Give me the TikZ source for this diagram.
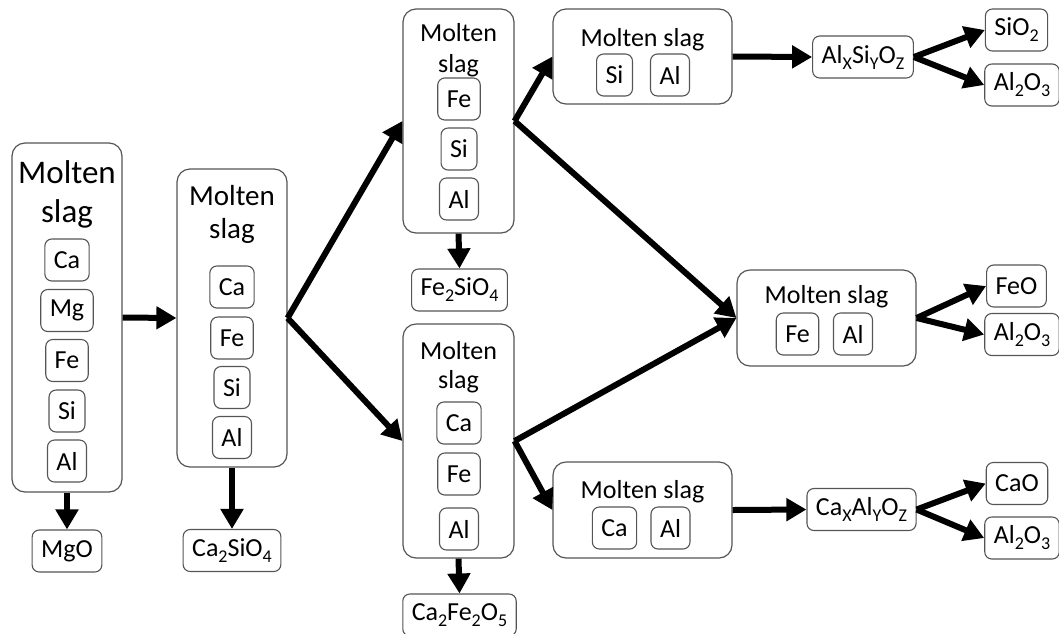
\documentclass[tikz,border=0pt]{standalone}
\usepackage{fontspec}
\setmainfont{Carlito}
\usepackage{tikz}
\usetikzlibrary{arrows.meta}
\definecolor{boxgray}{RGB}{85,85,85}
\newcommand{\lsub}[1]{\raisebox{-6pt}{\fontsize{18}{18}\selectfont#1}}

\tikzset{
  slag/.style={draw=boxgray, line width=1.2pt, rounded corners=13pt, inner sep=0pt},
  elem/.style={draw=boxgray, line width=1.1pt, rounded corners=7pt, inner xsep=9pt, inner ysep=0pt,
    minimum height=42pt, font=\fontsize{26}{30}\selectfont},
  title/.style={anchor=base, inner sep=0pt, font=\fontsize{26}{30}\selectfont},
  flow/.style={line width=6pt, -{Triangle[length=20pt,width=22pt]}}
}

\begin{document}
\begin{tikzpicture}[x=1pt,y=-1pt]
\useasboundingbox (0,0) rectangle (1059,633);

% slag boxes
\node[slag, minimum width=110pt, minimum height=349pt] (s1) at (67,317.5) {};
\node[slag, minimum width=110pt, minimum height=298pt] (s2) at (232,318) {};
\node[slag, minimum width=111pt, minimum height=224pt] (s3) at (458.5,121) {};
\node[slag, minimum width=111pt, minimum height=234pt] (s5) at (458.5,441) {};
\node[slag, minimum width=179pt, minimum height=95pt] (s4) at (642.5,56.5) {};
\node[slag, minimum width=179pt, minimum height=96pt] (s6) at (642.5,510) {};
\node[slag, minimum width=179pt, minimum height=96pt] (s7) at (826.5,318) {};

% titles
\node[title, font=\fontsize{33}{38}\selectfont] (t1a) at (67,183) {Molten};
\node[title, font=\fontsize{33}{38}\selectfont] (t1b) at (67,222) {slag};
\node[title, font=\fontsize{29}{34}\selectfont] (t2a) at (232,205) {Molten};
\node[title, font=\fontsize{29}{34}\selectfont] (t2b) at (232,238) {slag};
\node[title] (t3a) at (458.5,41) {Molten};
\node[title] (t3b) at (458.5,72) {slag};
\node[title] (t5a) at (458.5,359) {Molten};
\node[title] (t5b) at (458.5,388) {slag};
\node[title] (t4) at (642.5,46) {Molten slag};
\node[title] (t6) at (642.5,498) {Molten slag};
\node[title] (t7) at (826.5,303) {Molten slag};

% elements
\foreach \el/\y in {Ca/260,Mg/310.5,Fe/360.5,Si/411,Al/461}
  \node[elem] (a-\el) at (67,\y) {\el};
\foreach \el/\y in {Ca/287,Fe/338,Si/387.5,Al/437.5}
  \node[elem] (b-\el) at (232,\y) {\el};
\foreach \el/\y in {Fe/99,Si/149,Al/199}
  \node[elem] (c-\el) at (459,\y) {\el};
\foreach \el/\y in {Ca/423,Fe/474,Al/529}
  \node[elem] (e-\el) at (459,\y) {\el};
\node[elem] (d-Si) at (614.5,75) {Si};
\node[elem] (d-Al) at (670,75) {Al};
\node[elem] (f-Ca) at (614.5,528) {Ca};
\node[elem] (f-Al) at (670.5,528) {Al};
\node[elem] (g-Fe) at (797.5,334) {Fe};
\node[elem] (g-Al) at (853,334) {Al};

% products
\node[elem] (mgo) at (67,551) {MgO};
\node[elem] (c2s) at (232,550.5) {Ca\lsub{2}SiO\lsub{4}};
\node[elem] (f2s) at (459.5,290) {Fe\lsub{2}SiO\lsub{4}};
\node[elem] (c2f) at (459.5,615) {Ca\lsub{2}Fe\lsub{2}O\lsub{5}};
\node[elem] (asi) at (863,57) {Al\lsub{X}Si\lsub{Y}O\lsub{Z}};
\node[elem] (cal) at (861.5,509.5) {Ca\lsub{X}Al\lsub{Y}O\lsub{Z}};
\node[elem] (sio) at (1016.5,30) {SiO\lsub{2}};
\node[elem] (alo1) at (1022,85) {Al\lsub{2}O\lsub{3}};
\node[elem] (feo) at (1016.5,286) {FeO};
\node[elem] (alo2) at (1022,334.5) {Al\lsub{2}O\lsub{3}};
\node[elem] (cao) at (1017,483.5) {CaO};
\node[elem] (alo3) at (1022,538) {Al\lsub{2}O\lsub{3}};

% arrows
\draw[flow] (s1.east) -- (s2.west);
\draw[flow] (s1.south) -- (mgo.north);
\draw[flow] (s2.south) -- (c2s.north);
\draw[flow] (s2.east) -- (s3.west);
\draw[flow] (s2.east) -- (s5.west);
\draw[flow] (s3.south) -- (f2s.north);
\draw[flow] (s5.south) -- (c2f.north);
\draw[flow] (s3.east) -- (s4.west);
\draw[flow] (s3.east) -- (s7.west);
\draw[flow] (s5.east) -- (s7.west);
\draw[flow] (s5.east) -- (s6.west);
\draw[flow] (s4.east) -- (asi.west);
\draw[flow] (s6.east) -- (cal.west);
\draw[flow] (asi.east) -- (sio.west);
\draw[flow] (asi.east) -- (alo1.west);
\draw[flow] (s7.east) -- (feo.west);
\draw[flow] (s7.east) -- (alo2.west);
\draw[flow] (cal.east) -- (cao.west);
\draw[flow] (cal.east) -- (alo3.west);
\end{tikzpicture}
\end{document}
